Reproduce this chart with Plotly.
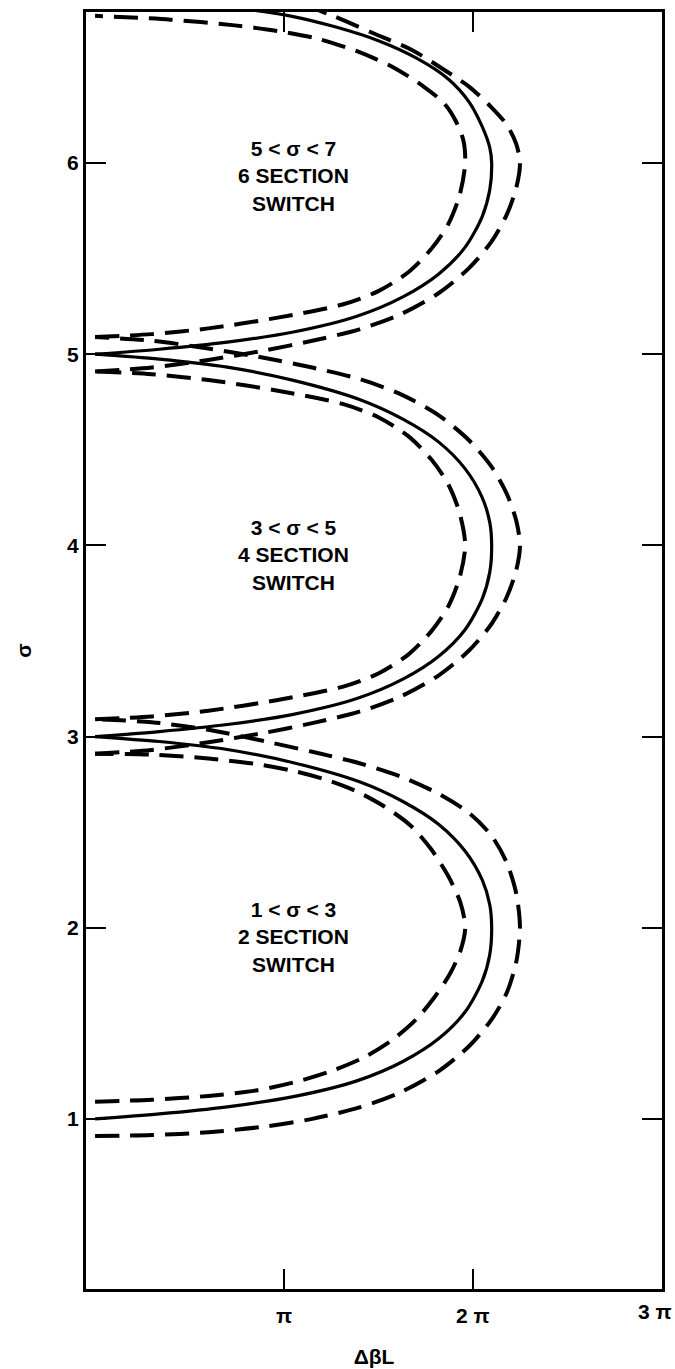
import plotly.graph_objects as go

# Delta-beta L axis is in units of pi; sigma on the vertical axis.
# Solid: switching curve; dashed: tolerance contours on either side.

# --- 2 section switch (1 < sigma < 3) ---
s1_solid_x = [0, 0.34, 0.70, 1.05, 1.39, 1.63, 1.82, 1.96, 2.05, 2.09, 2.10,
              2.09, 2.05, 1.96, 1.82, 1.63, 1.40, 1.05, 0.70, 0.34, 0]
s1_solid_y = [1.0, 1.026, 1.063, 1.116, 1.2, 1.3, 1.42, 1.56, 1.72, 1.86, 2.0,
              2.12, 2.25, 2.4, 2.54, 2.66, 2.763, 2.863, 2.932, 2.974, 3.0]
s1_inner_x = [0, 0.3, 0.6, 0.86, 1.05, 1.25, 1.42, 1.57, 1.7, 1.8, 1.88, 1.935, 1.96,
              1.935, 1.87, 1.78, 1.67, 1.53, 1.38, 1.22, 1.05, 0.86, 0.6, 0.3, 0]
s1_inner_y = [1.09, 1.10, 1.12, 1.15, 1.19, 1.25, 1.32, 1.41, 1.52, 1.64, 1.76, 1.88, 2.0,
              2.13, 2.27, 2.41, 2.535, 2.635, 2.715, 2.775, 2.82, 2.855, 2.885, 2.905, 2.91]
s1_outer_x = [0, 0.3, 0.6, 0.9, 1.15, 1.4, 1.62, 1.82, 1.98, 2.1, 2.18, 2.23, 2.25,
              2.23, 2.18, 2.1, 1.98, 1.82, 1.62, 1.4, 1.15, 0.9, 0.6, 0.3, 0]
s1_outer_y = [0.91, 0.915, 0.93, 0.96, 1.0, 1.06, 1.14, 1.25, 1.38, 1.52, 1.66, 1.82, 2.0,
              2.18, 2.34, 2.48, 2.6, 2.7, 2.79, 2.86, 2.92, 2.975, 3.035, 3.075, 3.09]

# --- 4 section switch (3 < sigma < 5) ---
s2_solid_x = [0, 0.34, 0.70, 1.05, 1.39, 1.63, 1.82, 1.96, 2.05, 2.09, 2.10,
              2.09, 2.05, 1.96, 1.82, 1.63, 1.40, 1.05, 0.70, 0.34, 0]
s2_solid_y = [3.0, 3.026, 3.063, 3.116, 3.2, 3.3, 3.42, 3.56, 3.72, 3.86, 4.0,
              4.12, 4.25, 4.4, 4.54, 4.66, 4.763, 4.863, 4.932, 4.974, 5.0]
s2_inner_x = [0, 0.3, 0.6, 0.96, 1.31, 1.5, 1.66, 1.78, 1.87, 1.93, 1.96,
              1.93, 1.87, 1.78, 1.66, 1.5, 1.31, 0.96, 0.6, 0.3, 0]
s2_inner_y = [3.09, 3.105, 3.135, 3.19, 3.26, 3.33, 3.43, 3.55, 3.68, 3.83, 4.0,
              4.17, 4.32, 4.45, 4.57, 4.67, 4.74, 4.81, 4.865, 4.895, 4.91]
s2_outer_x = [0, 0.3, 0.6, 0.9, 1.15, 1.4, 1.62, 1.82, 1.98, 2.1, 2.18, 2.23, 2.25,
              2.23, 2.18, 2.1, 1.98, 1.82, 1.62, 1.4, 1.15, 0.9, 0.6, 0.3, 0]
s2_outer_y = [2.91, 2.93, 2.97, 3.02, 3.07, 3.13, 3.21, 3.32, 3.45, 3.59, 3.73, 3.87, 4.0,
              4.13, 4.27, 4.41, 4.55, 4.68, 4.79, 4.87, 4.93, 4.98, 5.03, 5.07, 5.09]

# --- 6 section switch (5 < sigma < 7) ---
s3_solid_x = [0, 0.34, 0.70, 1.05, 1.39, 1.63, 1.82, 1.96, 2.05, 2.09, 2.10,
              2.09, 2.05, 1.98, 1.87, 1.70, 1.50, 1.28, 1.03, 0.76]
s3_solid_y = [5.0, 5.026, 5.063, 5.116, 5.2, 5.3, 5.42, 5.56, 5.72, 5.86, 6.0,
              6.08, 6.19, 6.32, 6.44, 6.55, 6.64, 6.71, 6.77, 6.81]
s3_inner_x = [0, 0.3, 0.6, 0.96, 1.31, 1.5, 1.66, 1.78, 1.87, 1.93, 1.96,
              1.95, 1.91, 1.85, 1.74, 1.58, 1.40, 1.18, 0.97, 0.74, 0.4, 0]
s3_inner_y = [5.09, 5.105, 5.135, 5.19, 5.26, 5.33, 5.43, 5.55, 5.68, 5.83, 6.0,
              6.12, 6.22, 6.31, 6.40, 6.50, 6.58, 6.65, 6.69, 6.72, 6.75, 6.77]
s3_outer_x = [0, 0.3, 0.6, 0.9, 1.15, 1.4, 1.62, 1.82, 1.98, 2.1, 2.18, 2.23, 2.25,
              2.23, 2.18, 2.1, 1.98, 1.86, 1.68, 1.47, 1.26, 1.1]
s3_outer_y = [4.91, 4.93, 4.97, 5.02, 5.07, 5.13, 5.21, 5.32, 5.45, 5.59, 5.73, 5.87, 6.0,
              6.1, 6.2, 6.29, 6.40, 6.48, 6.59, 6.68, 6.77, 6.83]

region_labels = ["1 < σ < 3<br>2 SECTION<br>SWITCH",
                 "3 < σ < 5<br>4 SECTION<br>SWITCH",
                 "5 < σ < 7<br>6 SECTION<br>SWITCH"]
label_x = [1.05, 1.05, 1.05]
label_y = [1.95, 3.95, 5.93]

x_tick_vals = [1, 2, 3]
x_tick_text = ["π", "2 π", "3 π"]
y_tick_vals = [1, 2, 3, 4, 5, 6]

INK = "black"
FONT = dict(family="Liberation Sans, Arial, sans-serif", size=21, color=INK, weight="bold")

fig = go.Figure()

curves = [
    (s1_solid_x, s1_solid_y, "solid"), (s1_inner_x, s1_inner_y, "dash"), (s1_outer_x, s1_outer_y, "dash"),
    (s2_solid_x, s2_solid_y, "solid"), (s2_inner_x, s2_inner_y, "dash"), (s2_outer_x, s2_outer_y, "dash"),
    (s3_solid_x, s3_solid_y, "solid"), (s3_inner_x, s3_inner_y, "dash"), (s3_outer_x, s3_outer_y, "dash"),
]
for xs, ys, style in curves:
    if style == "solid":
        line = dict(color=INK, width=3.2, shape="spline", smoothing=0.8)
    else:
        line = dict(color=INK, width=4, dash="24px,11px", shape="spline", smoothing=0.8)
    fig.add_trace(go.Scatter(x=xs, y=ys, mode="lines", line=line,
                             showlegend=False, hoverinfo="skip", cliponaxis=True))

for txt, lx, ly in zip(region_labels, label_x, label_y):
    fig.add_annotation(x=lx, y=ly, text=txt, showarrow=False, font=FONT,
                       xanchor="center", yanchor="middle", align="center")

# the last tick label sits on the right frame edge; keep it inside the page
fig.add_annotation(x=1.0, xref="paper", y=0, yref="paper", text=x_tick_text[-1],
                   showarrow=False, font=FONT, xanchor="right", yanchor="top",
                   xshift=12, yshift=-9)

axis_common = dict(showline=True, linecolor=INK, linewidth=3, mirror="ticks",
                   ticks="inside", ticklen=20, tickwidth=1.6, tickcolor=INK,
                   showgrid=False, zeroline=False, tickfont=FONT, automargin=False)

fig.update_xaxes(range=[-0.048, 3.002], tickvals=x_tick_vals,
                 ticktext=x_tick_text[:-1] + [""], ticklabelstandoff=6,
                 title=dict(text="ΔβL", font=FONT, standoff=24), **axis_common)
fig.update_yaxes(range=[0.11, 6.79], tickvals=y_tick_vals,
                 title=dict(text="σ", font=FONT, standoff=30), **axis_common)

fig.update_layout(width=675, height=1369, paper_bgcolor="white", plot_bgcolor="white",
                  margin=dict(l=86, r=13, t=12, b=80))

fig.write_html("out.html")
